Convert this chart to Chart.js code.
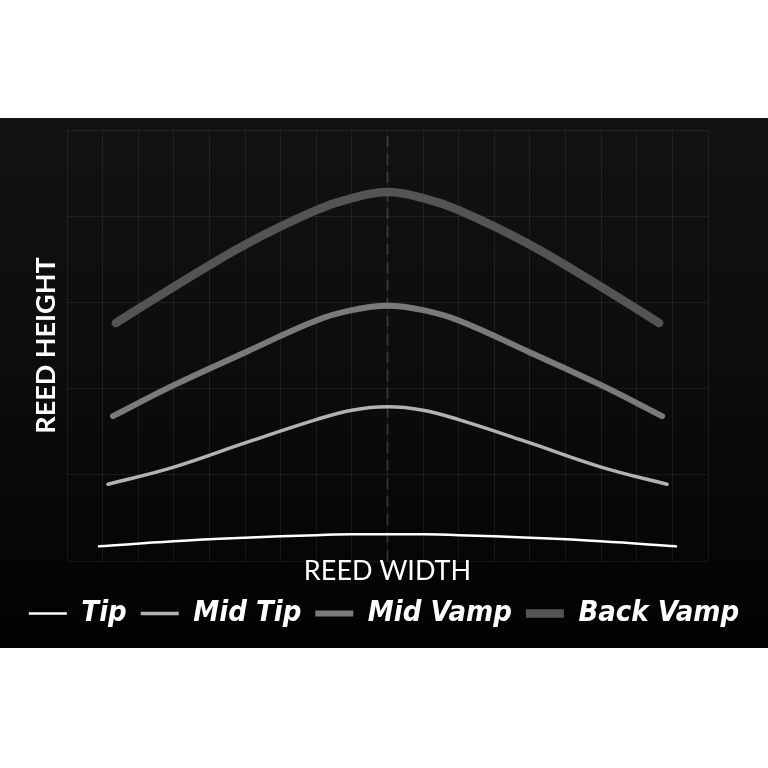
<!DOCTYPE html>
<html>
<head>
<meta charset="utf-8">
<script src="https://cdn.jsdelivr.net/npm/chart.js@4/dist/chart.umd.min.js"></script>
<style>
  html, body { margin: 0; padding: 0; background: #fff; }
  #wrap { position: relative; width: 768px; height: 768px; }
  #panel {
    position: absolute; left: 0; top: 118px; width: 768px; height: 530px;
    background: linear-gradient(to bottom, #121212 0%, #0c0c0c 50%, #020202 100%);
  }
  #chart { position: absolute; left: 0; top: 0; }
</style>
</head>
<body>
<div id="wrap">
  <div id="panel"></div>
  <canvas id="chart" width="768" height="768"></canvas>
</div>
<script>
// reed profile, x = position across the width (0..18), y = height (0..5)
const xTip = [0.9, 3, 5, 7, 8, 9, 10, 11, 13, 15, 17.1];
const yTip = [0.17, 0.23, 0.27, 0.30, 0.31, 0.31, 0.31, 0.30, 0.27, 0.23, 0.17];

const xMidTip = [1.15, 3, 5, 7, 8, 9, 10, 11, 13, 15, 16.85];
const yMidTip = [0.89, 1.09, 1.37, 1.64, 1.75, 1.79, 1.75, 1.64, 1.37, 1.09, 0.89];

const xMidVamp = [1.29, 3, 5, 7, 8, 9, 10, 11, 13, 15, 16.71];
const yMidVamp = [1.68, 2.04, 2.42, 2.79, 2.91, 2.96, 2.91, 2.79, 2.42, 2.04, 1.68];

const xBackVamp = [1.37, 3, 5, 7, 8, 9, 10, 11, 13, 15, 16.63];
const yBackVamp = [2.76, 3.18, 3.67, 4.07, 4.21, 4.28, 4.21, 4.07, 3.67, 3.18, 2.76];

const centerX = [9, 9];
const centerY = [0, 5];

const seriesNames = ['Tip', 'Mid Tip', 'Mid Vamp', 'Back Vamp'];

function pts(xs, ys) {
  return xs.map((x, i) => ({ x, y: ys[i] }));
}

function curve(label, xs, ys, color, width) {
  return {
    label,
    data: pts(xs, ys),
    borderColor: color,
    backgroundColor: color,
    borderWidth: width,
    borderCapStyle: 'round',
    pointRadius: 0,
    tension: 0.4,
    fill: false
  };
}

const datasets = [
  {
    label: 'center',
    data: pts(centerX, centerY),
    borderColor: 'rgba(255,255,255,0.13)',
    borderWidth: 2,
    borderDash: [11, 7],
    pointRadius: 0,
    order: 10
  },
  curve(seriesNames[0], xTip, yTip, '#ffffff', 2.5),
  curve(seriesNames[1], xMidTip, yMidTip, '#b2b2b2', 3.5),
  curve(seriesNames[2], xMidVamp, yMidVamp, '#7a7a7a', 6),
  curve(seriesNames[3], xBackVamp, yBackVamp, '#545454', 8.5)
];

const gridColor = 'rgba(255,255,255,0.07)';

new Chart(document.getElementById('chart'), {
  type: 'line',
  data: { datasets },
  options: {
    responsive: false,
    animation: false,
    layout: { padding: { left: 0, right: 0, top: 130, bottom: 130 } },
    plugins: {
      tooltip: { enabled: false },
      legend: {
        position: 'bottom',
        labels: {
          filter: (item) => item.text !== 'center',
          usePointStyle: true,
          pointStyle: 'line',
          pointStyleWidth: 38,
          padding: 14,
          color: '#ffffff',
          font: { family: '"Liberation Sans Narrow", "DejaVu Sans Condensed", sans-serif', size: 29, style: 'italic', weight: 'bold' }
        }
      }
    },
    scales: {
      x: {
        type: 'linear',
        min: 0,
        max: 18,
        ticks: { display: false, stepSize: 1 },
        grid: { color: gridColor, drawTicks: false },
        border: { display: false },
        title: {
          display: true,
          text: 'REED WIDTH',
          color: '#ffffff',
          font: { family: 'Lato, sans-serif', size: 27, lineHeight: 0.74 },
          padding: { top: 0, bottom: 4 }
        }
      },
      y: {
        min: 0,
        max: 5,
        ticks: { display: false, stepSize: 1 },
        grid: { color: gridColor, drawTicks: false },
        border: { display: false },
        title: {
          display: true,
          text: 'REED HEIGHT',
          color: '#ffffff',
          font: { family: 'Lato, sans-serif', size: 27, weight: 'bold', lineHeight: 1 },
          padding: { top: 33, bottom: 7 }
        }
      },
      yRight: {
        position: 'right',
        min: 0,
        max: 5,
        ticks: { display: false },
        grid: { display: false },
        border: { display: false },
        afterFit: (scale) => { scale.width = 60; }
      }
    }
  }
});
</script>
</body>
</html>
